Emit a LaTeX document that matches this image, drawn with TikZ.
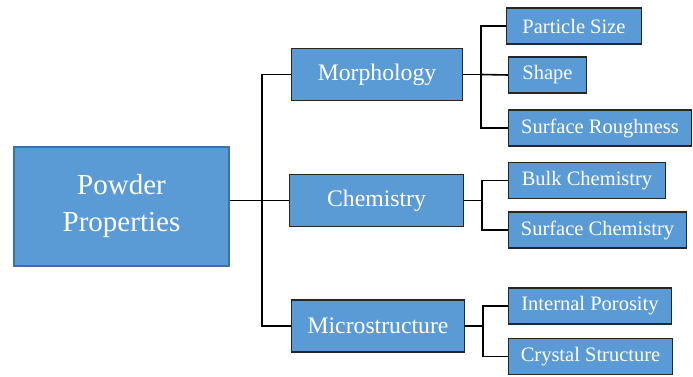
\documentclass[tikz,border=0pt]{standalone}
\usepackage{fontspec}
\setmainfont{Liberation Serif}
\usepackage{tikz}
\usetikzlibrary{positioning, calc}
\definecolor{powderblue}{HTML}{5B9BD5}
\definecolor{powderedge}{HTML}{41719C}
\definecolor{powderdark}{HTML}{262626}

\begin{document}
\begin{tikzpicture}[x=1pt, y=-1pt,
    rootbox/.style={draw=powderedge, line width=1.6pt, fill=powderblue, text=white, align=center, inner sep=0pt, minimum width=215pt, minimum height=119pt, font=\fontsize{29}{37}\selectfont},
    midbox/.style={draw=powderdark, line width=1.2pt, fill=powderblue, text=white, inner sep=0pt, minimum height=52pt, font=\fontsize{23.7}{27}\selectfont},
    leafbox/.style={draw=powderdark, line width=1.2pt, fill=powderblue, text=white, inner sep=0pt, minimum height=36pt, font=\fontsize{20.5}{24}\selectfont},
    conn/.style={line width=1.6pt, black}
  ]
    \useasboundingbox (0,0) rectangle (693,377);
    % main node
    \node[rootbox] (root) at (121.5,206.5) {Powder\\Properties};
    % second level
    \node[midbox, minimum width=171pt] (morph) at (377,74.5) {Morphology};
    \node[midbox, minimum width=174pt] (chem) at (376.5,200.5) {Chemistry};
    \node[midbox, minimum width=173pt] (micro) at (378,326) {Microstructure};
    % leaves
    \node[leafbox, minimum width=135pt] (size) at (574,26) {Particle Size};
    \node[leafbox, minimum width=78pt] (shape) at (547.5,75) {Shape};
    \node[leafbox, minimum width=183pt] (rough) at (600,128) {Surface Roughness};
    \node[leafbox, minimum width=157pt] (bulk) at (587,180.5) {Bulk Chemistry};
    \node[leafbox, minimum width=178pt] (surf) at (597.5,230) {Surface Chemistry};
    \node[leafbox, minimum width=163pt] (poro) at (590,306) {Internal Porosity};
    \node[leafbox, minimum width=164pt] (cryst) at (590.5,356.5) {Crystal Structure};
    % joints
    \coordinate (trunk) at (262,200.5);
    \coordinate (mj) at (481,74.5);
    \coordinate (cj) at (482,200.5);
    \coordinate (sj) at (483,326);
    % connectors
    \draw[conn] (root.east |- chem.west) -- (chem.west);
    \draw[conn] (morph.west) -| (trunk) |- (micro.west);
    \draw[conn] (morph.east) -- (mj);
    \draw[conn] (size.west) -| (mj) |- (rough.west);
    \draw[conn] (mj) -- (shape.west);
    \draw[conn] (chem.east) -- (cj);
    \draw[conn] (bulk.west) -| (cj) |- (surf.west);
    \draw[conn] (micro.east) -- (sj);
    \draw[conn] (poro.west) -| (sj) |- (cryst.west);
  \end{tikzpicture}
\end{document}
